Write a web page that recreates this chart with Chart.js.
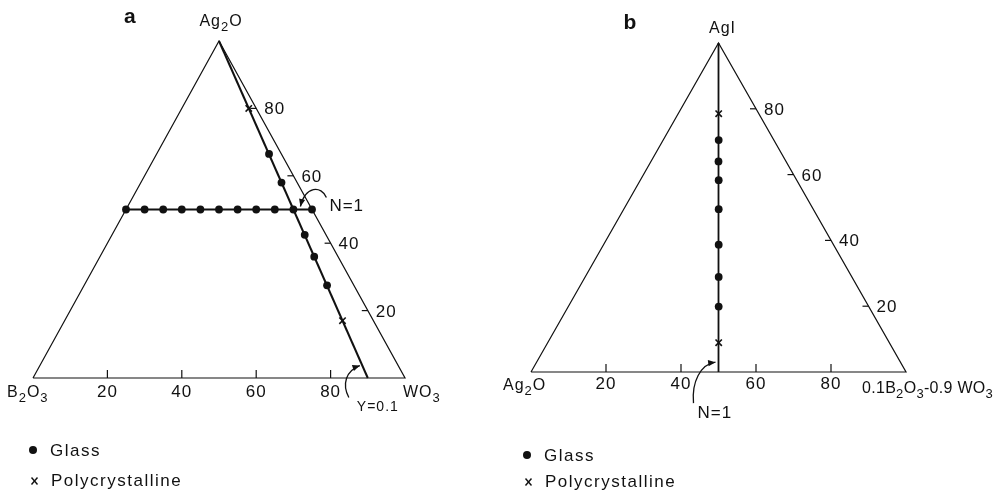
<!DOCTYPE html>
<html>
<head>
<meta charset="utf-8">
<script src="https://cdn.jsdelivr.net/npm/chart.js@4.4.1/dist/chart.umd.min.js"></script>
<style>
  body { margin: 0; background: #fff; }
  #wrap { position: relative; width: 1002px; height: 494px; }
  canvas { position: absolute; top: 0; }
</style>
</head>
<body>
<div id="wrap">
  <canvas id="chartA" width="500" height="494" style="left:0"></canvas>
  <canvas id="chartB" width="502" height="494" style="left:500px"></canvas>
</div>
<script>
"use strict";

// ---- data (mol %) ----
// panel a: Ag2O - B2O3 - WO3 (B2O3 is the remainder)
var aGlassAg2O = [50, 50, 50, 50, 50, 50, 50, 50, 50, 50, 50, 66.5, 58, 42.5, 36, 27.5];
var aGlassWO3  = [0, 5, 10, 15, 20, 25, 30, 35, 40, 45, 50, 30.2, 37.8, 51.8, 57.6, 65.3];
var aPolyAg2O  = [80, 17];
var aPolyWO3   = [18, 74.7];
var aTieAg2O   = [50, 50];     // constant Ag2O join
var aTieWO3    = [0, 50];
var aYAg2O     = [100, 0];     // Y = 0.1 join
var aYWO3      = [0, 90];

// panel b: AgI - Ag2O - (0.1B2O3-0.9WO3) (Ag2O is the remainder)
var bGlassAgI  = [70.5, 64, 58.3, 49.5, 38.7, 28.9, 19.9];
var bGlassMix  = [14.8, 18, 20.9, 25.3, 30.7, 35.6, 40.1];
var bPolyAgI   = [78.5, 8.9];
var bPolyMix   = [10.8, 45.6];
var bN1AgI     = [0, 100];     // N = 1 join
var bN1Mix     = [50, 0];

var tickVals = [20, 40, 60, 80];

var FONT = '"Liberation Sans", Arial, sans-serif';
var INK = '#111';

// ternary -> cartesian (base component m, apex component a)
function pt(m, a) { return { x: m + a / 2, y: a }; }
function series(ms, as) { return as.map(function (a, i) { return pt(ms[i], a); }); }
function toPx(chart, m, a) {
    return [chart.scales.x.getPixelForValue(m + a / 2), chart.scales.y.getPixelForValue(a)];
}

// text with "_" marking a subscript character
function chem(c, s, x, y, align, size, sp) {
    size = size || 17;
    sp = sp === undefined ? 1.3 : sp;
    var parts = [];
    for (var i = 0; i < s.length; i++) {
        if (s[i] === '_') { parts.push([s[i + 1], true]); i++; }
        else parts.push([s[i], false]);
    }
    c.letterSpacing = sp + 'px';
    var total = 0;
    parts.forEach(function (p) {
        c.font = (p[1] ? Math.round(size * 0.8) : size) + 'px ' + FONT;
        p.push(c.measureText(p[0]).width);
        total += p[2];
    });
    var cx = align === 'center' ? x - total / 2 : (align === 'right' ? x - total : x);
    c.textAlign = 'left';
    c.textBaseline = 'alphabetic';
    parts.forEach(function (p) {
        c.font = (p[1] ? Math.round(size * 0.8) : size) + 'px ' + FONT;
        c.fillText(p[0], cx, y + (p[1] ? 5 : 0));
        cx += p[2];
    });
    c.letterSpacing = '0px';
}

function seg(c, x1, y1, x2, y2) {
    c.beginPath(); c.moveTo(x1, y1); c.lineTo(x2, y2); c.stroke();
}

function curvedArrow(c, p) {
    c.beginPath();
    c.moveTo(p[0], p[1]);
    c.bezierCurveTo(p[2], p[3], p[4], p[5], p[6], p[7]);
    c.stroke();
    var ang = Math.atan2(p[7] - p[5], p[6] - p[4]);
    c.beginPath();
    c.moveTo(p[6], p[7]);
    c.lineTo(p[6] - 8 * Math.cos(ang - 0.4), p[7] - 8 * Math.sin(ang - 0.4));
    c.lineTo(p[6] - 8 * Math.cos(ang + 0.4), p[7] - 8 * Math.sin(ang + 0.4));
    c.closePath();
    c.fill();
}

var ternDeco = {
    id: 'ternDeco',
    afterDatasetsDraw: function (chart, args, o) {
        var c = chart.ctx;
        c.save();
        c.strokeStyle = INK; c.fillStyle = INK; c.lineWidth = 1.2;

        tickVals.forEach(function (v) {
            var p = toPx(chart, v, 0);
            seg(c, p[0], p[1], p[0], p[1] - 8);
            chem(c, String(v), p[0], p[1] + o.tickGap, 'center', 17, 1);
            var q = toPx(chart, 100 - v, v);
            seg(c, q[0] - 6, q[1], q[0], q[1]);
            chem(c, String(v), q[0] + 8, q[1] + 6, 'left', 17, 1);
        });

        var left = toPx(chart, 0, 0), right = toPx(chart, 100, 0), apex = toPx(chart, 0, 100);
        chem(c, o.leftName, left[0] + o.leftOff[0], left[1] + o.leftOff[1], 'left', 16, 1);
        chem(c, o.rightName, right[0] + o.rightOff[0], right[1] + o.rightOff[1], 'left', 16, o.rightSp);
        chem(c, o.apexName, apex[0] + o.apexOff[0], apex[1] + o.apexOff[1], 'center', 16, 1);

        c.font = 'bold 21px ' + FONT;
        c.textAlign = 'left';
        c.fillText(o.title, apex[0] + o.titleOff[0], o.titleOff[1]);

        // annotation arrows
        o.notes.forEach(function (n) {
            var a = toPx(chart, n.m, n.a), d = n.path, pts = [];
            for (var i = 0; i < d.length; i += 2) pts.push(a[0] + d[i], a[1] + d[i + 1]);
            c.lineWidth = 1.3;
            curvedArrow(c, pts);
            chem(c, n.text, a[0] + n.textOff[0], a[1] + n.textOff[1], 'left', n.size, 1);
        });

        // key
        var k = o.key, g = k[2];
        c.beginPath(); c.arc(k[0], k[1], 4, 0, Math.PI * 2); c.fill();
        chem(c, 'Glass', k[0] + 17, k[1] + 6, 'left', 17, 1.5);
        c.lineWidth = 1.4;
        seg(c, k[0] - 1.5, k[1] + g - 3.5, k[0] + 4.5, k[1] + g + 3.5);
        seg(c, k[0] + 4.5, k[1] + g - 3.5, k[0] - 1.5, k[1] + g + 3.5);
        chem(c, 'Polycrystalline', k[0] + 18, k[1] + g + 5, 'left', 17, 1.5);
        c.restore();
    }
};

function pointSets(glass, poly) {
    return [{
        data: glass, showLine: false, clip: false,
        pointStyle: 'circle', pointRadius: 3.9,
        pointBackgroundColor: INK, pointBorderColor: INK, pointBorderWidth: 0
    }, {
        data: poly, showLine: false, clip: false,
        pointStyle: 'crossRot', pointRadius: 4.5,
        pointBorderColor: INK, pointBorderWidth: 1.6
    }];
}
function lineSet(d, w) {
    return { data: d, showLine: true, clip: false, borderColor: INK, borderWidth: w, pointRadius: 0, tension: 0 };
}
function baseOptions(pad, deco) {
    return {
        responsive: false,
        animation: false,
        events: [],
        layout: { padding: pad },
        scales: {
            x: { type: 'linear', min: 0, max: 100, display: false },
            y: { type: 'linear', min: 0, max: 100, display: false }
        },
        plugins: { legend: { display: false }, tooltip: { enabled: false }, ternDeco: deco }
    };
}

var outline = series([0, 100, 0, 0], [0, 0, 100, 0]);

new Chart(document.getElementById('chartA'), {
    type: 'scatter',
    data: {
        datasets: pointSets(series(aGlassWO3, aGlassAg2O), series(aPolyWO3, aPolyAg2O)).concat([
            lineSet(series(aTieWO3, aTieAg2O), 2),
            lineSet(series(aYWO3, aYAg2O), 2),
            lineSet(outline, 1.2)
        ])
    },
    options: baseOptions({ left: 33, right: 95, top: 41, bottom: 116 }, {
        title: 'a', titleOff: [-95, 23],
        tickGap: 19,
        leftName: 'B_2O_3', leftOff: [-26, 19],
        rightName: 'WO_3', rightOff: [-2, 19], rightSp: 1,
        apexName: 'Ag_2O', apexOff: [2, -15],
        notes: [
            { m: 45, a: 50, text: 'N=1', textOff: [36, 1], size: 17,
              path: [33, -12, 28, -24, 12, -24, 7, -3] },
            { m: 86.4, a: 4, text: 'Y=0.1', textOff: [-5, 46], size: 14,
              path: [-13, 33, -20, 20, -16, 6, -2, 1] }
        ],
        key: [33, 450, 31]
    }),
    plugins: [ternDeco]
});

new Chart(document.getElementById('chartB'), {
    type: 'scatter',
    data: {
        datasets: pointSets(series(bGlassMix, bGlassAgI), series(bPolyMix, bPolyAgI)).concat([
            lineSet(series(bN1Mix, bN1AgI), 1.8),
            lineSet(outline, 1.2)
        ])
    },
    options: baseOptions({ left: 31, right: 96, top: 43, bottom: 122 }, {
        title: 'b', titleOff: [-95, 29],
        tickGap: 17,
        leftName: 'Ag_2O', leftOff: [-28, 18],
        rightName: '0.1B_2O_3-0.9 WO_3', rightOff: [-44, 21], rightSp: 0.3,
        apexName: 'AgI', apexOff: [4, -10],
        notes: [
            { m: 48.5, a: 3, text: 'N=1', textOff: [-21, 56], size: 17,
              path: [-25, 41, -27, 20, -18, 2, -3, 0] }
        ],
        key: [27, 455, 27]
    }),
    plugins: [ternDeco]
});
</script>
</body>
</html>
